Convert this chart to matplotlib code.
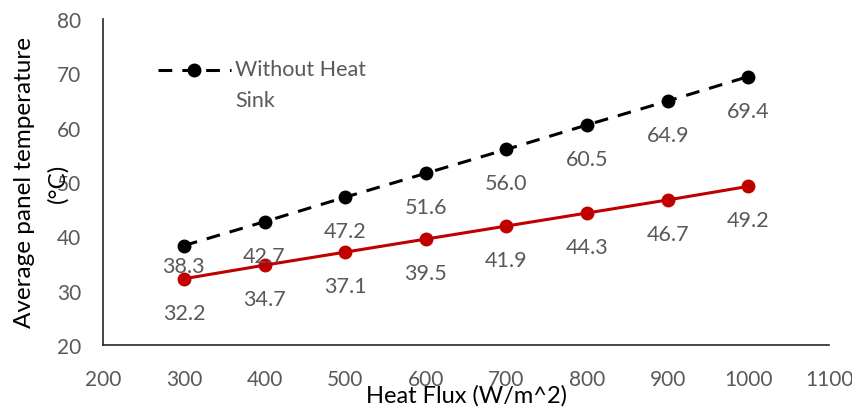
import matplotlib
matplotlib.use("Agg")
import matplotlib.pyplot as plt

plt.rcParams['font.family'] = ['Lato', 'DejaVu Sans']

heat_flux = [300, 400, 500, 600, 700, 800, 900, 1000]
without_sink = [38.3, 42.7, 47.2, 51.6, 56.0, 60.5, 64.9, 69.4]
with_sink = [32.2, 34.7, 37.1, 39.5, 41.9, 44.3, 46.7, 49.2]

GREY = '#595959'

fig = plt.figure(figsize=(8.53, 4.14), dpi=100)
ax = fig.add_axes([0.121, 0.164, 0.851, 0.788])

ax.plot(heat_flux, without_sink, color='black', linestyle=(0, (4.5, 3.3)), linewidth=2.2,
        marker='o', markersize=9, label='Without Heat\nSink')
ax.plot(heat_flux, with_sink, color='#c00000', linewidth=2.2, marker='o', markersize=9)

# data labels below each point (first black one sits closer, as in excel)
for i, (x, y) in enumerate(zip(heat_flux, without_sink)):
    dy = -15 if i == 0 else -24.5
    ax.annotate(f'{y:.1f}', (x, y), xytext=(0, dy), textcoords='offset points',
                ha='center', va='center', fontsize=15.5, color=GREY)
for x, y in zip(heat_flux, with_sink):
    ax.annotate(f'{y:.1f}', (x, y), xytext=(0, -24.5), textcoords='offset points',
                ha='center', va='center', fontsize=15.5, color=GREY)

ax.set_xlim(200, 1100)
ax.set_ylim(20, 80)
ax.set_xticks(range(200, 1101, 100))
ax.set_yticks(range(20, 81, 10))
ax.tick_params(length=0, labelsize=15, labelcolor=GREY)
ax.tick_params(axis='x', pad=17)
ax.tick_params(axis='y', pad=16)

for side in ['top', 'right']:
    ax.spines[side].set_visible(False)
for side in ['left', 'bottom']:
    ax.spines[side].set_color('#262626')
    ax.spines[side].set_linewidth(1.2)

ax.set_xlabel('Heat Flux (W/m^2)', fontsize=17, labelpad=-3)
ax.set_ylabel('Average panel temperature\n(°C)', fontsize=17.5, linespacing=1.7)
ax.yaxis.set_label_coords(-0.048, 0.5)

leg = ax.legend(loc='upper left', bbox_to_anchor=(0.06, 0.955), frameon=False, fontsize=15.5,
                handlelength=3.4, handletextpad=0.2, labelcolor=GREY, borderpad=0)
# excel puts the marker level with the first line of the wrapped label
for t in leg.get_texts():
    t.set_linespacing(1.65)
    t.set_y(-15)

fig.savefig('out.png', dpi=100)
